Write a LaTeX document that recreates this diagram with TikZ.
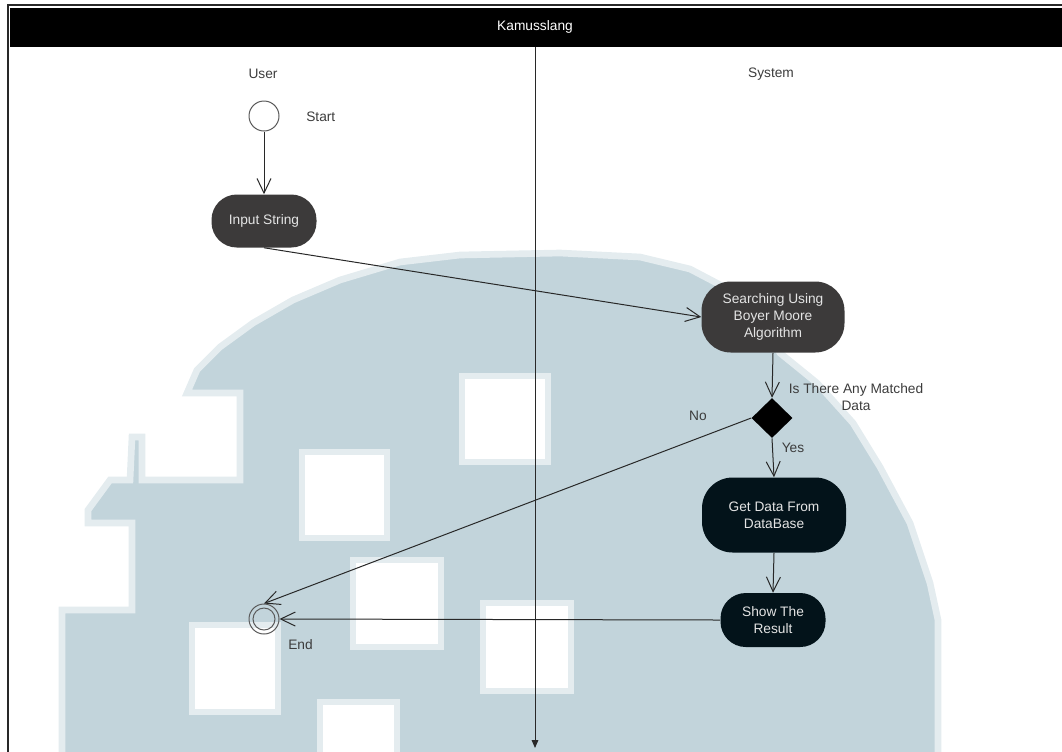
\documentclass[tikz,border=0pt]{standalone}
\usepackage{fontspec}
\setmainfont{Liberation Sans}
\usetikzlibrary{arrows.meta,shapes.geometric}

\definecolor{wm}{RGB}{194,212,219}
\definecolor{wmedge}{RGB}{228,236,239}
\definecolor{linegrey}{RGB}{40,40,40}
\definecolor{labelgrey}{RGB}{60,60,60}
\definecolor{nodetext}{RGB}{228,228,228}
\definecolor{greyfill}{RGB}{60,58,58}
\definecolor{darkfill}{RGB}{3,19,26}
\definecolor{circlegrey}{RGB}{90,90,90}

\begin{document}
\begin{tikzpicture}[x=0.75pt,y=-0.75pt,
  every node/.style={font=\fontsize{10.3}{12.75}\selectfont},
  lbl/.style={text=labelgrey, align=center, inner sep=0pt},
  act/.style={rectangle, rounded corners=#1, text=nodetext, align=center, inner sep=0pt},
  flow/.style={draw=linegrey, line width=0.75pt,
    -{Straight Barb[length=11pt,width=10.5pt,line width=0.75pt]}},
  tile/.style={fill=white, draw=wmedge, line width=5pt}
]
\useasboundingbox (0,0) rectangle (1062,751);

% background emblem
\begin{scope}
  \clip (9,48) rectangle (1062,751);
  \draw[wmedge, line width=5pt, fill=wm]
    (62,760) -- (62,610) -- (132,610) -- (132,523) -- (88,523) -- (88,510)
    -- (110,480) -- (130,480) -- (132,437) -- (142,437) -- (142,480)
    -- (240,480) -- (240,393) -- (187,393) -- (197,370) -- (220,347)
    -- (253,323) -- (293,300) -- (340,280) -- (400,262) -- (460,255)
    -- (560,253) -- (640,257) -- (690,269) -- (730,290) -- (760,320)
    -- (780,353) -- (817,383) -- (853,423) -- (880,467) -- (910,523)
    -- (930,583) -- (938,620) -- (938,760) -- cycle;
  \filldraw[tile] (462,376) rectangle (548,462);
  \filldraw[tile] (302,452) rectangle (387,538);
  \filldraw[tile] (353,560) rectangle (441,647);
  \filldraw[tile] (483,603) rectangle (571,691);
  \filldraw[tile] (192,625) rectangle (278,712);
  \filldraw[tile] (320,702) rectangle (397,770);
\end{scope}

% frame and title bar
\draw[linegrey, line width=1pt] (8,752) -- (8,5) -- (1063,5);
\fill[black] (10,8) rectangle (1062,47);
\node[text=white] (title) at (535,27) {Kamusslang};

% lane separator
\coordinate (septop) at (535,47);
\coordinate (sepbot) at (535,748);
\draw[linegrey, line width=0.75pt, -{Triangle[length=6pt,width=5pt]}] (septop) -- (sepbot);

% lane names
\node[lbl] (laneuser) at (263,74) {User};
\node[lbl] (lanesys) at (771,74) {System};

% activity nodes
\node[circle, draw=circlegrey, fill=white, line width=0.75pt, minimum size=22.5pt, inner sep=0pt] (start) at (264,116) {};
\node[lbl, anchor=west] (startlbl) at (306,117) {Start};

\node[act=19pt, fill=greyfill, minimum width=78.75pt, minimum height=39.75pt] (input) at (264,221) {Input String};

\node[act=22pt, fill=greyfill, minimum width=107.25pt, minimum height=53.25pt] (search) at (773,317) {Searching Using\\Boyer Moore\\Algorithm};

\node[diamond, fill=black, minimum width=30.75pt, minimum height=30pt, inner sep=0pt] (dec) at (772,418) {};
\node[lbl] (declbl) at (856,397) {Is There Any Matched\\Data};
\node[lbl] (nolbl) at (698,416) {No};
\node[lbl] (yeslbl) at (793,448) {Yes};

\node[act=23pt, fill=darkfill, minimum width=108pt, minimum height=56.25pt] (getdata) at (774,515) {Get Data From\\DataBase};

\node[act=19pt, fill=darkfill, minimum width=78.75pt, minimum height=40.5pt] (show) at (773,620) {Show The\\Result};

\node[circle, draw=circlegrey, line width=0.75pt, minimum size=22.5pt, inner sep=0pt] (end) at (264,619) {};
\draw[circlegrey, line width=0.75pt] (end.center) circle[radius=8.25pt];
\node[lbl, anchor=west] (endlbl) at (288,645) {End};

% flows
\draw[flow] (start.south) -- (input.north);
\draw[flow] (input.south) -- (search.west);
\draw[flow] (search.south) -- (dec.north);
\draw[flow] (dec.south) -- (getdata.north);
\draw[flow] (getdata.south) -- (show.north);
\draw[flow] (dec.west) -- (end.north);
\draw[flow] (show.west) -- (end.east);
\end{tikzpicture}
\end{document}
